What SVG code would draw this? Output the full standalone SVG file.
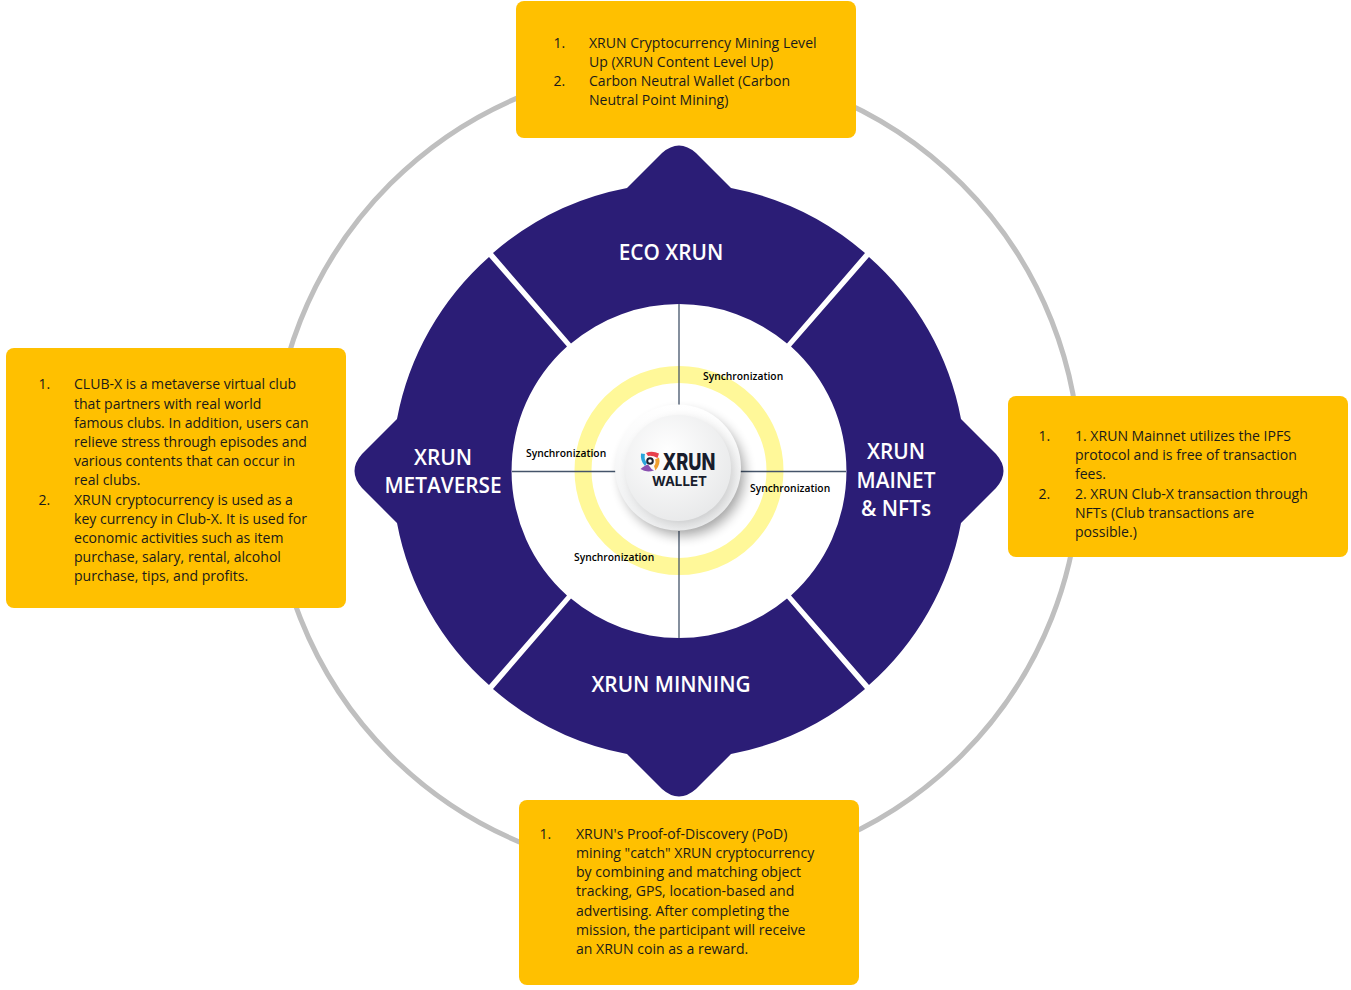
<svg xmlns="http://www.w3.org/2000/svg" width="1351" height="990" viewBox="0 0 1351 990">
<style>
.seg{fill:#2b1d76}
.lbl{font:600 20.8px "Open Sans",sans-serif;fill:#fff;text-anchor:middle}
.box{fill:#ffc000}
.t{font:400 14.05px "Open Sans",sans-serif;fill:#1a1a1a}
.sy{font:600 10.3px "Open Sans",sans-serif;fill:#000}
.ln{stroke:#44546a;stroke-width:1.3;fill:none}
</style>
<defs>
<radialGradient id="g1" cx="40%" cy="35%" r="75%"><stop offset="0" stop-color="#ffffff"/><stop offset="1" stop-color="#e6e7e8"/></radialGradient>
<linearGradient id="g2" x1="0" y1="0" x2="0" y2="1"><stop offset="0" stop-color="#ffffff"/><stop offset="1" stop-color="#eeeff0"/></linearGradient>
<filter id="sh" x="-30%" y="-30%" width="160%" height="160%"><feGaussianBlur stdDeviation="6"/></filter>
</defs>
<rect width="1351" height="990" fill="#fff"/>
<circle id="orbit" cx="676" cy="469.5" r="404" fill="none" stroke="#bfbfbf" stroke-width="5"/>
<g id="eco"><path class="seg" d="M493 253A287 287 0 0 1 627 188L662 153Q679 138 696 153L731 188A287 287 0 0 1 865 253L787 343.500A167.500 167.500 0 0 0 571 343.500Z"/><text class="lbl" x="671" y="260">ECO XRUN</text></g>
<g id="metaverse"><path class="seg" d="M489 257A287 287 0 0 0 397 419L362 454Q347 471 362 488L397 523A287 287 0 0 0 489 685L567 595.500A167.500 167.500 0 0 1 567 346.500Z"/><text class="lbl" x="443" y="465">XRUN</text><text class="lbl" x="443" y="493">METAVERSE</text></g>
<g id="mainet"><path class="seg" d="M869 257A287 287 0 0 1 961 419L996 454Q1011 471 996 488L961 523A287 287 0 0 1 869 685L791 595.500A167.500 167.500 0 0 0 791 346.500Z"/><text class="lbl" x="896" y="459">XRUN</text><text class="lbl" x="896" y="488">MAINET</text><text class="lbl" x="896" y="516">&amp; NFTs</text></g>
<g id="mining"><path class="seg" d="M493 689A287 287 0 0 0 627 754L662 789Q679 804 696 789L731 754A287 287 0 0 0 865 689L787 598.500A167.500 167.500 0 0 1 571 598.500Z"/><text class="lbl" x="671" y="692">XRUN MINNING</text></g>
<circle id="sync-ring" cx="679" cy="470.5" r="96" fill="none" stroke="#fff899" stroke-width="17"/>
<g id="connectors">
<path class="ln" d="M679 304V405M679 531V638M512 471.500H616M740 471.500H846"/>
</g>
<g id="wallet">
<circle cx="683" cy="474" r="62" fill="#000" opacity=".32" filter="url(#sh)"/>
<circle cx="678" cy="467.500" r="63" fill="url(#g2)"/>
<circle cx="682" cy="472" r="52" fill="#000" opacity=".16" filter="url(#sh)"/>
<circle cx="678" cy="468" r="53" fill="url(#g1)"/>
<path fill="#e8404c" d="M646 453Q652 450.500 659 453.500L657.500 458Q652 455 648 456Z"/>
<path fill="#2aa5dc" d="M641 453.500L645 454Q643.500 459 647 463L645 466Q640 461 641 453.500Z"/>
<path fill="#f0a030" d="M659 457.500Q661 464 655.500 470.500L654 466Q656.500 463 655 459.500Z"/>
<path fill="#8a4fb0" d="M640.500 469Q645 465 648 464.500L650 467Q651 469 654 470.500Q646 473 640.500 469Z"/>
<circle cx="650" cy="461" r="2.800" fill="#fff" stroke="#1b2030" stroke-width="2"/>
<text x="662.500" y="469.500" font-family="Inter,sans-serif" font-weight="800" font-size="22.700" fill="#181c2c" textLength="53" lengthAdjust="spacingAndGlyphs">XRUN</text>
<text x="652" y="486" font-family="Inter,sans-serif" font-weight="700" font-size="13.500" fill="#181c2c" textLength="55" lengthAdjust="spacingAndGlyphs">WALLET</text>
</g>
<text class="sy" x="703" y="380">Synchronization</text>
<text class="sy" x="526" y="457">Synchronization</text>
<text class="sy" x="750" y="492">Synchronization</text>
<text class="sy" x="574" y="561">Synchronization</text>
<g id="box-top"><rect class="box" x="516" y="1" width="340" height="137" rx="8"/>
<text class="t" x="553.500" y="48">1.</text><text class="t" x="589" y="48">XRUN Cryptocurrency Mining Level</text><text class="t" x="589" y="67">Up (XRUN Content Level Up)</text>
<text class="t" x="553.500" y="86">2.</text><text class="t" x="589" y="86">Carbon Neutral Wallet (Carbon</text><text class="t" x="589" y="105">Neutral Point Mining)</text></g>
<g id="box-left"><rect class="box" x="6" y="348" width="340" height="260" rx="8"/>
<text class="t" x="38.500" y="389">1.</text><text class="t" x="74" y="389">CLUB-X is a metaverse virtual club</text><text class="t" x="74" y="409">that partners with real world</text><text class="t" x="74" y="428">famous clubs. In addition, users can</text><text class="t" x="74" y="447">relieve stress through episodes and</text><text class="t" x="74" y="466">various contents that can occur in</text><text class="t" x="74" y="485">real clubs.</text>
<text class="t" x="38.500" y="505">2.</text><text class="t" x="74" y="505">XRUN cryptocurrency is used as a</text><text class="t" x="74" y="524">key currency in Club-X. It is used for</text><text class="t" x="74" y="543">economic activities such as item</text><text class="t" x="74" y="562">purchase, salary, rental, alcohol</text><text class="t" x="74" y="581">purchase, tips, and profits.</text></g>
<g id="box-right"><rect class="box" x="1008" y="396" width="340" height="161" rx="8"/>
<text class="t" x="1038.500" y="441">1.</text><text class="t" x="1075" y="441">1. XRUN Mainnet utilizes the IPFS</text><text class="t" x="1075" y="460">protocol and is free of transaction</text><text class="t" x="1075" y="479">fees.</text>
<text class="t" x="1038.500" y="499">2.</text><text class="t" x="1075" y="499">2. XRUN Club-X transaction through</text><text class="t" x="1075" y="518">NFTs (Club transactions are</text><text class="t" x="1075" y="537">possible.)</text></g>
<g id="box-bottom"><rect class="box" x="519" y="800" width="340" height="185" rx="8"/>
<text class="t" x="539.500" y="839">1.</text><text class="t" x="576" y="839">XRUN's Proof-of-Discovery (PoD)</text><text class="t" x="576" y="858">mining "catch" XRUN cryptocurrency</text><text class="t" x="576" y="877">by combining and matching object</text><text class="t" x="576" y="896">tracking, GPS, location-based and</text><text class="t" x="576" y="916">advertising. After completing the</text><text class="t" x="576" y="935">mission, the participant will receive</text><text class="t" x="576" y="954">an XRUN coin as a reward.</text></g>
</svg>
